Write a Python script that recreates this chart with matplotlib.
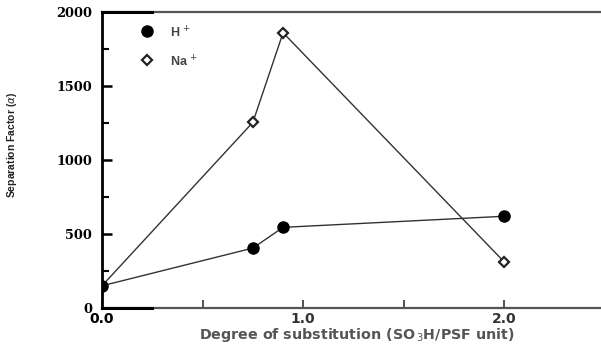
import matplotlib
matplotlib.use("Agg")
import matplotlib.pyplot as plt
from matplotlib.ticker import MultipleLocator

# Degree of substitution vs separation factor
ds = [0.0, 0.75, 0.9, 2.0]
h_factor = [150, 405, 545, 620]
na_factor = [150, 1255, 1860, 310]

y_ticks = [0, 500, 1000, 1500, 2000]
x_ticks = [0.0, 1.0, 2.0]
x_labels = ["0.0", "1.0", "2.0"]

fig = plt.figure(figsize=(6.01, 3.45), dpi=100)
ax = fig.add_axes([0.1697, 0.1072, 0.8303, 0.858])

line_col = "#333333"
ax.plot(ds, na_factor, color=line_col, linewidth=1.0, marker="D",
        markersize=5.5, markerfacecolor="white", markeredgecolor="#222222",
        markeredgewidth=1.6, zorder=3)
ax.plot(ds, h_factor, color=line_col, linewidth=1.0, marker="o",
        markersize=8, markerfacecolor="black", markeredgecolor="black", zorder=4)

ax.set_xlim(0, 2.48)
ax.set_ylim(0, 2000)

ax.set_yticks(y_ticks)
ax.set_yticklabels([str(v) for v in y_ticks], family="DejaVu Serif",
                   fontweight="bold", fontsize=9.3)
ax.yaxis.set_minor_locator(MultipleLocator(250))
ax.set_xticks(x_ticks)
ax.set_xticklabels(x_labels, family="DejaVu Sans", fontweight="bold",
                   fontsize=10, color="#333333")
ax.get_xticklabels()[0].set_color("black")
ax.xaxis.set_minor_locator(MultipleLocator(0.5))

ax.tick_params(axis="y", which="major", direction="in", length=7, width=1.8, pad=7)
ax.tick_params(axis="y", which="minor", direction="in", length=5, width=1.5)
ax.tick_params(axis="x", which="both", direction="in", length=6, width=1.3,
               color="#444444", pad=3)

ax.spines["right"].set_visible(False)
ax.spines["left"].set_linewidth(2.0)
ax.spines["left"].set_color("black")
for side in ("top", "bottom"):
    ax.spines[side].set_linewidth(1.6)
    ax.spines[side].set_color("#555555")
# darker start of the horizontal frame lines
ax.plot([0, 0.25], [2000, 2000], color="black", linewidth=2.2, clip_on=False, zorder=5)
ax.plot([0, 0.25], [0, 0], color="black", linewidth=2.2, clip_on=False, zorder=5)

ax.set_xlabel("Degree of substitution (SO$_{\\,3}$H/PSF unit)", family="DejaVu Sans",
              fontweight="bold", fontsize=10.3, color="#555555")
ax.xaxis.set_label_coords(0.51, -0.06)
ax.set_ylabel("Separation Factor ($\\alpha$)", family="Liberation Sans",
              fontweight="bold", fontsize=7.5, color="#222222")
ax.yaxis.set_label_coords(-0.166, 0.55)

# legend drawn by hand
ax.plot([0.224], [1870], marker="o", markersize=8, color="black", linestyle="none", zorder=5)
ax.text(0.34, 1860, "H$^{\\,+}$", family="Liberation Sans", fontweight="bold",
        fontsize=9, color="#444444", va="center")
ax.plot([0.224], [1675], marker="D", markersize=5, markerfacecolor="white",
        markeredgecolor="#222222", markeredgewidth=1.6, linestyle="none", zorder=5)
ax.text(0.34, 1665, "Na$^{\\,+}$", family="Liberation Sans", fontweight="bold",
        fontsize=9, color="#444444", va="center")

fig.savefig("out.png", dpi=100)
plt.close(fig)
